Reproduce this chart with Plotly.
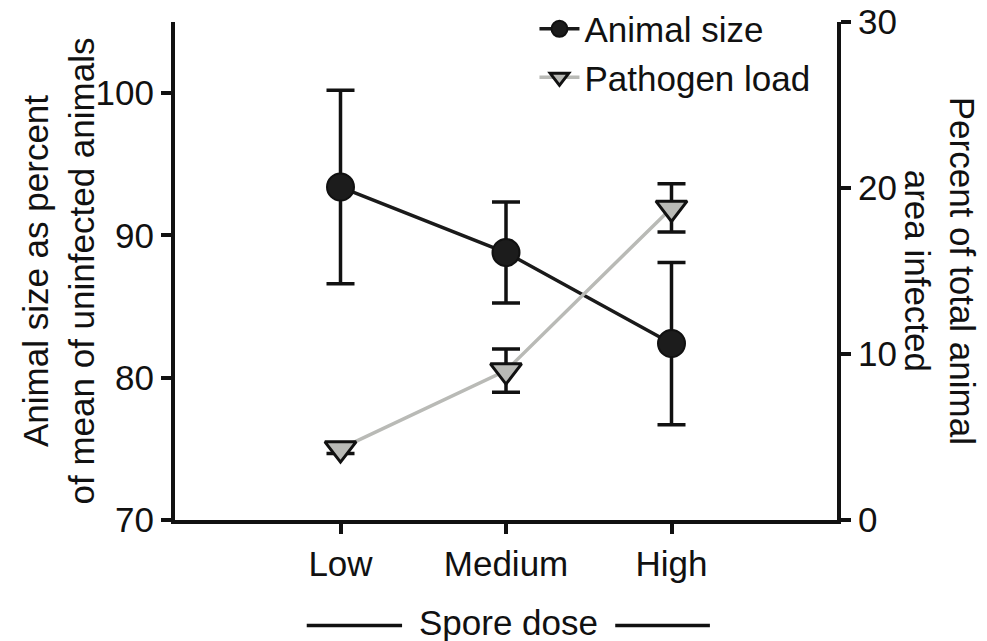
import plotly.graph_objects as go

doses = ["Low", "Medium", "High"]
animal_size = [93.4, 88.8, 82.4]
animal_size_err = [6.8, 3.55, 5.7]
pathogen_load = [4.3, 9.0, 18.8]
pathogen_load_err = [0.3, 1.3, 1.45]

left_ticks = [70, 80, 90, 100]
right_ticks = [0, 10, 20, 30]

FONT = "Liberation Sans, Arial, Helvetica, sans-serif"
FS = 35
INK = "#111111"

fig = go.Figure()

fig.add_trace(go.Scatter(
    x=doses, y=pathogen_load, name="Pathogen load", yaxis="y2",
    mode="lines+markers",
    line=dict(color="#b9bab6", width=3.5),
    marker=dict(symbol="triangle-down", size=27, color="#b9bab6",
                line=dict(color=INK, width=3)),
    error_y=dict(type="data", array=pathogen_load_err, color=INK,
                 thickness=3.5, width=14),
))

fig.add_trace(go.Scatter(
    x=doses, y=animal_size, name="Animal size", yaxis="y",
    mode="lines+markers",
    line=dict(color="#1a1a1a", width=3.5),
    marker=dict(symbol="circle", size=27, color="#1c1c1c",
                line=dict(color=INK, width=2)),
    error_y=dict(type="data", array=animal_size_err, color=INK,
                 thickness=3.5, width=14),
))

axis_common = dict(showgrid=False, zeroline=False, showline=True,
                   linecolor=INK, linewidth=4, ticks="outside", ticklen=10,
                   tickwidth=4, tickcolor=INK, tickfont=dict(size=FS, color=INK),
                   automargin=False)

fig.update_layout(
    width=987, height=641,
    margin=dict(l=175, r=150, t=22, b=121, autoexpand=False),
    paper_bgcolor="white", plot_bgcolor="white",
    font=dict(family=FONT, size=FS, color=INK),
    showlegend=True,
    legend=dict(x=0.543, y=1.045, xanchor="left", yanchor="top",
                bgcolor="rgba(0,0,0,0)", traceorder="reversed",
                font=dict(size=FS), itemwidth=40, tracegroupgap=0),
    xaxis=dict(type="category", range=[-1, 3], **axis_common),
    yaxis=dict(range=[70, 105], tickvals=left_ticks, **axis_common),
    yaxis2=dict(range=[0, 30], tickvals=right_ticks, overlaying="y", side="right",
                **axis_common),
)

fig.add_annotation(text="Animal size as percent<br>of mean of uninfected animals",
                   xref="paper", yref="paper", x=-0.176, y=0.5,
                   xanchor="center", yanchor="middle", textangle=-90,
                   showarrow=False, font=dict(size=FS))
fig.add_annotation(text="Percent of total animal<br>area infected",
                   xref="paper", yref="paper", x=1.156, y=0.5,
                   xanchor="center", yanchor="middle", textangle=90,
                   showarrow=False, font=dict(size=FS))
fig.add_annotation(text="Spore dose", xref="paper", yref="paper",
                   x=0.504, y=-0.205, xanchor="center", yanchor="middle",
                   showarrow=False, font=dict(size=FS))
fig.add_shape(type="line", xref="paper", yref="paper", x0=0.199, x1=0.343,
              y0=-0.212, y1=-0.212, line=dict(color=INK, width=3.5))
fig.add_shape(type="line", xref="paper", yref="paper", x0=0.665, x1=0.808,
              y0=-0.212, y1=-0.212, line=dict(color=INK, width=3.5))

fig.write_html("out.html")
